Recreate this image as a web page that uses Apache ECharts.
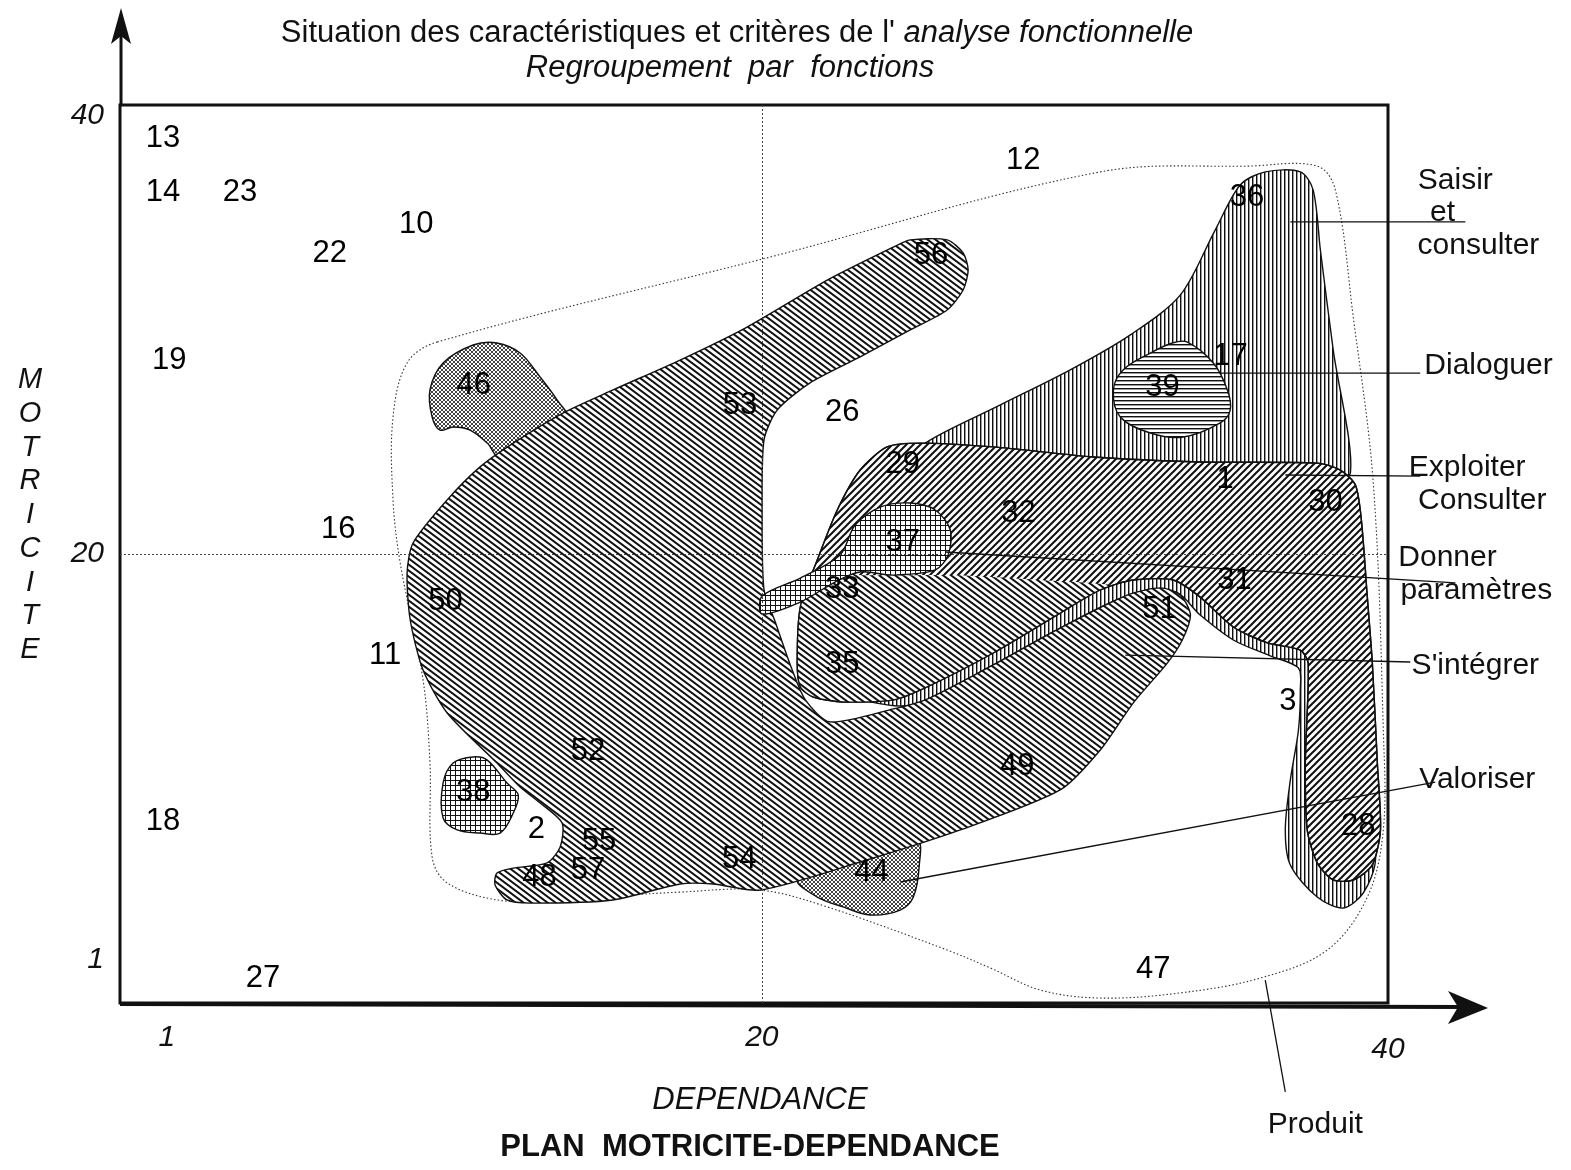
<!DOCTYPE html>
<html>
<head>
<meta charset="utf-8">
<title>Plan motricité-dépendance</title>
<script src="https://cdn.jsdelivr.net/npm/echarts@6/dist/echarts.min.js"></script>
<style>
  html, body { margin: 0; padding: 0; background: #fff; }
  #chart { width: 1571px; height: 1170px; }
</style>
</head>
<body>
<div id="chart"></div>
<script>
// ---- Criteria of the functional analysis: number, dependance (x), motricite (y)
const criteria = ['13','14','23','10','22','12','19','16','11','18',
                  '27','46','53','56','26','36','17','39','29','1',
                  '32','30','37','33','31','51','50','35','3','52',
                  '49','38','28','2','55','57','48','54','44','47'];
const dependance = [0.87,0.87,3.33,8.96,6.2,28.35,1.07,6.47,7.97,0.87,
                    4.07,10.8,19.3,25.4,22.57,35.5,34.97,32.8,24.5,34.8,
                    28.2,38.0,24.5,22.57,35.1,32.7,9.9,22.57,36.8,14.45,
                    28.16,10.78,39.05,12.8,14.8,14.45,12.9,19.28,23.5,32.5];
const motricite = [38.5,36.1,36.1,34.7,33.4,37.55,28.6,21.1,15.5,8.1,
                   1.1,27.5,26.6,33.3,26.3,35.9,28.8,27.4,24.0,23.3,
                   21.8,22.3,20.5,18.4,18.8,17.55,17.9,15.1,13.45,11.2,
                   10.55,9.4,7.85,7.75,7.2,5.9,5.6,6.4,5.8,1.5];

// ---- Axis tick labels
const xTickValues = [1, 20, 40];
const yTickValues = [1, 20, 40];
const quadrantSplit = 20;

// ---- Function groupings: outlines in (dependance, motricite) units
const produitOutline = [[9.63,29.44],[20.27,33.23],[30.81,37.02],[35.60,37.28],[37.74,37.28],[38.32,36.21],[38.89,30.56],[39.53,23.16],[39.85,12.16],[39.85,7.71],[39.34,4.72],[38.06,2.36],[35.92,1.11],[33.37,0.45],[30.81,0.22],[28.89,0.58],[27.30,1.56],[25.92,2.36],[22.09,4.28],[19.95,5.03],[17.39,4.94],[13.14,4.59],[11.54,4.59],[9.95,5.35],[9.47,6.50],[9.40,10.69],[9.18,14.39],[8.45,19.60],[8.22,22.41],[8.22,26.10],[8.67,28.51]];
const saisirOutline = [[25.22,24.94],[27.62,26.64],[29.85,28.20],[31.77,29.76],[33.37,31.54],[34.48,34.43],[35.28,36.44],[36.08,37.02],[37.20,37.02],[37.61,36.21],[37.84,33.54],[38.25,29.09],[38.80,23.61],[37.84,23.83],[30.81,23.96],[25.38,24.54]];
const integrerBandOutline = [[21.23,15.06],[21.40,14.03],[23.14,13.50],[24.42,13.23],[25.28,13.50],[27.39,15.06],[29.53,16.70],[31.67,18.13],[33.21,18.31],[34.0,17.28],[35.06,16.17],[36.24,15.46],[37.14,14.92],[37.20,13.94],[37.14,12.16],[36.88,9.93],[36.72,7.71],[36.88,6.15],[37.74,4.72],[38.57,4.23],[39.21,4.90],[39.60,6.37],[39.44,10.82],[38.64,16.17],[37.20,17.51],[34.0,19.06],[31.77,19.29],[27.62,16.84],[24.42,14.83],[22.18,15.28]];
const integrerOutline = [[24.74,33.99],[25.92,33.99],[26.43,33.41],[26.59,32.65],[26.43,31.76],[25.92,30.87],[24.74,29.98],[23.14,28.78],[21.54,27.62],[20.49,26.41],[20.07,25.08],[20.01,21.96],[20.07,18.40],[20.43,16.97],[20.91,15.06],[21.39,13.50],[22.18,12.52],[24.20,13.10],[25.28,13.54],[27.39,15.06],[29.53,16.70],[31.67,18.17],[32.73,18.49],[33.37,18.17],[33.69,17.28],[33.43,16.17],[32.95,15.14],[31.86,13.36],[30.81,11.27],[29.53,9.49],[26.34,7.71],[23.14,6.28],[19.95,5.03],[18.45,5.30],[17.39,5.30],[15.25,4.59],[12.60,4.45],[11.86,4.59],[11.48,5.26],[11.54,5.79],[12.06,6.01],[13.14,6.24],[13.56,6.95],[13.62,8.02],[12.92,8.91],[12.28,9.62],[11.54,10.69],[9.95,12.92],[9.18,14.83],[8.77,17.06],[8.67,19.15],[8.86,20.49],[9.95,22.41],[11.0,23.88],[12.06,24.94],[13.65,26.28],[15.25,27.31],[17.39,28.64],[19.53,30.11],[22.09,32.20],[24.20,33.67]];
const exploiterOutline = [[24.0,24.77],[25.06,24.94],[27.39,24.77],[30.59,24.32],[34.0,24.10],[37.74,24.05],[38.48,23.74],[38.96,23.07],[39.15,21.51],[39.34,18.08],[39.50,15.14],[39.66,10.69],[39.76,7.71],[39.50,6.15],[38.89,5.48],[38.25,5.48],[37.74,6.24],[37.42,7.71],[37.36,10.69],[37.45,15.14],[37.20,15.72],[36.15,16.04],[35.06,16.75],[34.0,18.08],[33.14,18.84],[31.86,18.84],[30.81,18.40],[29.53,17.37],[27.39,15.59],[25.28,14.08],[24.20,13.50],[22.60,13.41],[21.64,13.63],[21.23,14.08],[21.13,15.14],[21.23,17.64],[21.77,19.73],[22.41,21.96],[23.14,23.74]];
const integrer35Outline = [[21.13,15.14],[21.23,17.64],[21.70,19.29],[23.14,19.06],[26.02,19.06],[28.89,18.84],[31.13,18.62],[30.81,18.40],[29.53,17.37],[27.39,15.59],[25.28,14.08],[24.20,13.50],[22.60,13.41],[21.64,13.63],[21.23,14.08]];
const valoriser46Outline = [[9.47,26.10],[9.40,27.31],[9.82,28.51],[10.78,29.31],[11.54,29.40],[12.28,28.95],[12.92,27.88],[13.46,26.86],[13.81,25.97],[12.92,24.86],[11.64,24.28],[11.23,24.94],[10.68,25.52],[10.14,25.66],[9.72,25.52]];
const valoriser44Outline = [[21.13,5.48],[22.09,6.10],[23.46,6.82],[24.96,7.26],[25.03,6.15],[24.84,4.72],[24.42,4.14],[23.46,3.92],[22.60,4.28],[21.77,4.72]];
const donner38Outline = [[9.82,9.80],[10.14,10.69],[10.78,10.96],[11.23,10.82],[11.86,9.80],[12.22,9.27],[12.06,8.46],[11.64,7.57],[11.0,7.57],[10.27,7.71],[9.82,8.24]];
const donner37Outline = [[20.01,18.13],[21.23,18.93],[22.50,19.96],[22.98,21.29],[23.78,22.09],[24.74,22.27],[25.54,21.96],[26.02,21.07],[25.95,19.96],[25.54,19.29],[24.20,19.06],[23.14,19.20],[22.34,18.75],[21.23,17.86],[20.01,17.33]];
const dialoguerOutline = [[33.59,29.44],[34.42,28.51],[34.87,27.31],[34.96,26.41],[34.64,25.84],[33.46,25.21],[32.41,25.39],[31.45,26.10],[31.23,27.31],[31.54,28.20],[32.41,28.95],[33.11,29.40]];

// ---- Callouts naming each function (leader line from / to)
const calloutLines = [
  [36.88, 34.79, 42.47, 34.79],   // Saisir et consulter
  [34.64, 28.06, 41.03, 28.06],   // Dialoguer
  [36.72, 23.52, 41.03, 23.47],   // Exploiter Consulter
  [25.86, 20.09, 42.15, 18.71],   // Donner paramètres
  [31.61, 15.50, 40.71, 15.19],   // S'intégrer
  [24.42, 5.39, 41.51, 9.84],     // Valoriser
  [36.08, 1.02, 36.72, -3.96]     // Produit
];
const calloutTexts = ['Saisir', 'et', 'consulter', 'Dialoguer', 'Exploiter', 'Consulter',
                      'Donner', 'paramètres', "S'intégrer", 'Valoriser', 'Produit'];
const calloutAnchors = [[42.15,36.61],[41.74,35.19],[42.89,33.72],[43.21,28.37],[42.53,23.83],[43.01,22.36],
                        [41.90,19.82],[42.82,18.35],[42.79,15.01],[42.85,9.93],[37.68,-5.43]];

const FONT = "'Liberation Sans', Arial, Helvetica, sans-serif";
const INK = '#111';

// ---- Hatch fills drawn into small repeating tiles
function tile(w, h, paint) {
  const c = document.createElement('canvas');
  c.width = w; c.height = h;
  const g = c.getContext('2d');
  g.fillStyle = '#fff'; g.fillRect(0, 0, w, h);
  g.fillStyle = INK; g.strokeStyle = INK;
  paint(g, w, h);
  return { image: c, repeat: 'repeat' };
}
const hatch = {
  vertical: tile(4, 4, (g, w, h) => { g.fillRect(0, 0, 1, h); g.fillStyle = '#9a9a9a'; g.fillRect(1, 0, 1, h); }),
  horizontal: tile(4, 4, (g, w, h) => { g.fillRect(0, 0, w, 1); g.fillStyle = '#9a9a9a'; g.fillRect(0, 1, w, 1); }),
  backslash: tile(8, 6, (g, w, h) => {
    g.lineWidth = 2;
    for (let k = -1; k <= 1; k++) {
      g.beginPath(); g.moveTo(-1, k * h - h / w); g.lineTo(w + 1, k * h + h + h / w); g.stroke();
    }
  }),
  slash: tile(7, 7, (g, w, h) => {
    g.lineWidth = 2;
    for (let k = -1; k <= 1; k++) {
      g.beginPath(); g.moveTo(-1, h + k * h + h / w); g.lineTo(w + 1, k * h - h / w); g.stroke();
    }
  }),
  grid: tile(5, 5, (g, w, h) => { g.fillRect(0, 0, w, 1); g.fillRect(0, 0, 1, h); }),
  stipple: tile(4, 4, (g, w, h) => {
    g.lineWidth = 0.8;
    for (let k = -1; k <= 1; k++) {
      g.beginPath(); g.moveTo(0, k * h); g.lineTo(w, k * h + h); g.stroke();
      g.beginPath(); g.moveTo(0, h + k * h); g.lineTo(w, k * h); g.stroke();
    }
  })
};

// Drawing order: bottom to top
const regions = [
  { outline: produitOutline, fill: 'none', stroke: '#333', lineWidth: 1.1, lineDash: [1.5, 2.2], smooth: 0.35 },
  { outline: saisirOutline, fill: hatch.vertical, stroke: INK, lineWidth: 1.4, smooth: 0.3 },
  { outline: integrerBandOutline, fill: hatch.vertical, stroke: INK, lineWidth: 1.4, smooth: 0.3 },
  { outline: valoriser46Outline, fill: hatch.stipple, stroke: INK, lineWidth: 1.4, smooth: 0.35 },
  { outline: valoriser44Outline, fill: hatch.stipple, stroke: INK, lineWidth: 1.4, smooth: 0.35 },
  { outline: donner38Outline, fill: hatch.grid, stroke: INK, lineWidth: 1.4, smooth: 0.35 },
  { outline: integrerOutline, fill: hatch.backslash, stroke: INK, lineWidth: 1.4, smooth: 0.25 },
  { outline: exploiterOutline, fill: hatch.slash, stroke: INK, lineWidth: 1.4, smooth: 0.25 },
  { outline: integrer35Outline, fill: hatch.backslash, stroke: null, lineWidth: 0, smooth: 0.25 },
  { outline: exploiterOutline, fill: 'none', stroke: INK, lineWidth: 1.4, smooth: 0.25 },
  { outline: dialoguerOutline, fill: hatch.horizontal, stroke: INK, lineWidth: 1.4, smooth: 0.35 },
  { outline: donner37Outline, fill: hatch.grid, stroke: INK, lineWidth: 1.4, smooth: 0.3 }
];

const chart = echarts.init(document.getElementById('chart'), null, { renderer: 'canvas' });

const tickFont = { fontSize: 30, fontStyle: 'italic', fontFamily: FONT, color: INK };

// Small nudges so the end labels sit where the drawing places them
function tickRich(extraTop, extraBottom) {
  return Object.assign({ padding: [extraTop, 0, extraBottom, 0] }, tickFont);
}

chart.setOption({
  animation: false,
  backgroundColor: '#fff',
  grid: {
    left: 120, right: 183, top: 105, bottom: 167,
    containLabel: false, outerBoundsMode: 'none',
    show: true, borderColor: INK, borderWidth: 3, backgroundColor: 'transparent'
  },
  xAxis: {
    type: 'value', min: -0.5, max: 40,
    axisLine: { show: false }, axisTick: { show: false }, splitLine: { show: false },
    axisLabel: Object.assign({
      customValues: xTickValues, margin: 20,
      formatter: v => (v === 40 ? '{low|40}' : String(v)),
      rich: { low: tickRich(12, 0) }
    }, tickFont)
  },
  yAxis: {
    type: 'value', min: 0, max: 40,
    axisLine: { show: false }, axisTick: { show: false }, splitLine: { show: false },
    axisLabel: Object.assign({
      customValues: yTickValues, margin: 16,
      formatter: v => (v === 1 ? '{lift|1}' : v === 40 ? '{drop|40}' : String(v)),
      rich: { lift: tickRich(0, 42), drop: tickRich(22, 0) }
    }, tickFont)
  },
  series: [
    {
      name: 'Fonctions',
      type: 'custom',
      silent: true,
      z: 2,
      clip: false,
      data: regions.map((r, i) => [r.outline[0][0], r.outline[0][1], i]),
      renderItem: (params, api) => {
        const r = regions[params.dataIndex];
        const pts = r.outline.map(p => api.coord(p));
        const style = { fill: r.fill, lineWidth: r.lineWidth, stroke: r.stroke || 'none' };
        if (r.lineDash) style.lineDash = r.lineDash;
        return { type: 'polygon', shape: { points: pts, smooth: r.smooth }, style: style };
      },
      markLine: {
        silent: true,
        symbol: ['none', 'none'],
        label: { show: false },
        lineStyle: { type: [2, 2], color: '#444', width: 1 },
        z: 3,
        data: [{ xAxis: quadrantSplit }, { yAxis: quadrantSplit }]
      }
    },
    {
      name: 'Renvois',
      type: 'custom',
      silent: true,
      z: 6,
      clip: false,
      data: calloutLines,
      renderItem: (params, api) => {
        const a = api.coord([api.value(0), api.value(1)]);
        const b = api.coord([api.value(2), api.value(3)]);
        return { type: 'line', shape: { x1: a[0], y1: a[1], x2: b[0], y2: b[1] },
                 style: { stroke: INK, lineWidth: 1.3 } };
      }
    },
    {
      name: 'Libellés',
      type: 'custom',
      silent: true,
      z: 6,
      clip: false,
      data: calloutAnchors.map((p, i) => [p[0], p[1], i]),
      renderItem: (params, api) => {
        const p = api.coord([api.value(0), api.value(1)]);
        return {
          type: 'text', x: p[0], y: p[1],
          style: {
            text: calloutTexts[params.dataIndex],
            fontSize: 30, fontFamily: FONT, fill: INK,
            align: 'center', verticalAlign: 'middle'
          }
        };
      }
    },
    {
      name: 'Critères',
      type: 'custom',
      silent: true,
      z: 7,
      clip: false,
      data: criteria.map((c, i) => [dependance[i], motricite[i], i]),
      renderItem: (params, api) => {
        const p = api.coord([api.value(0), api.value(1)]);
        return {
          type: 'text', x: p[0], y: p[1],
          style: {
            text: criteria[params.dataIndex],
            fontSize: 31, fontFamily: FONT, fill: '#000',
            align: 'center', verticalAlign: 'middle'
          }
        };
      }
    }
  ]
});

// ---- Arrowed axes, titles and axis names
const bl = chart.convertToPixel({ gridIndex: 0 }, [-0.5, 0]);
const tr = chart.convertToPixel({ gridIndex: 0 }, [40, 40]);
const x0 = bl[0], y0 = bl[1], y1 = tr[1];

function txt(x, y, text, extra) {
  return {
    type: 'text', x: x, y: y, z: 10,
    style: Object.assign({
      text: text, fontSize: 31, fontFamily: FONT, fill: INK,
      align: 'center', verticalAlign: 'middle'
    }, extra || {})
  };
}

chart.setOption({
  graphic: [
    // vertical axis arrow
    { type: 'line', z: 10, shape: { x1: x0 + 1, y1: y1, x2: x0 + 1, y2: 30 }, style: { stroke: INK, lineWidth: 3 } },
    { type: 'polygon', z: 10, shape: { points: [[x0 + 1, 8], [x0 - 9, 44], [x0 + 1, 36], [x0 + 11, 44]] }, style: { fill: INK } },
    // horizontal axis arrow
    { type: 'line', z: 10, shape: { x1: x0, y1: y0 + 1, x2: 1465, y2: y0 + 4 }, style: { stroke: INK, lineWidth: 4 } },
    { type: 'polygon', z: 10, shape: { points: [[1488, y0 + 5], [1448, y0 - 12], [1458, y0 + 4], [1448, y0 + 21]] }, style: { fill: INK } },
    // titles
    txt(737, 33, '{n|Situation des caractéristiques et critères de l\' }{i|analyse fonctionnelle}', {
      rich: {
        n: { fontSize: 31, fontFamily: FONT, fill: INK },
        i: { fontSize: 31, fontFamily: FONT, fontStyle: 'italic', fill: INK }
      }
    }),
    txt(730, 68, 'Regroupement  par  fonctions', { fontStyle: 'italic' }),
    txt(760, 1100, 'DEPENDANCE', { fontStyle: 'italic' }),
    txt(750, 1147, 'PLAN  MOTRICITE-DEPENDANCE', { fontWeight: 'bold' }),
    txt(30, 515, 'MOTRICITE'.split('').join('\n'), { fontStyle: 'italic', fontSize: 29, lineHeight: 33.75 })
  ]
});
</script>
</body>
</html>
